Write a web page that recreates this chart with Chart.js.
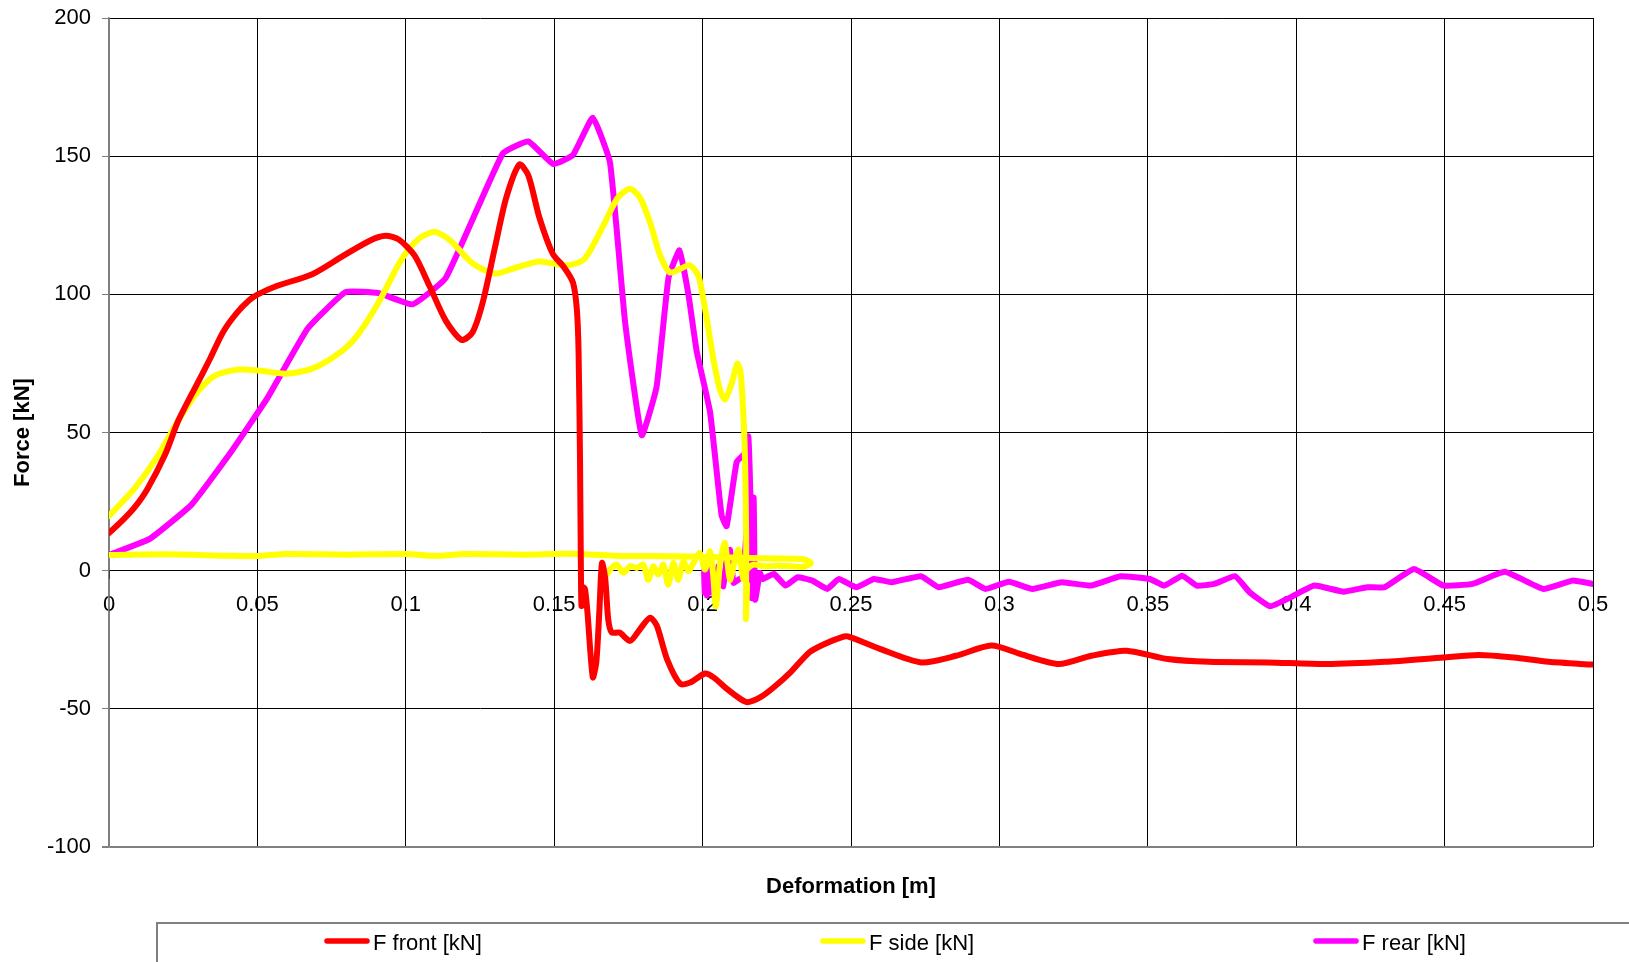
<!DOCTYPE html>
<html>
<head>
<meta charset="utf-8">
<script src="https://cdn.jsdelivr.net/npm/chart.js@4/dist/chart.umd.min.js"></script>
<style>
  html, body { margin: 0; padding: 0; background: #fff; }
  canvas { display: block; }
</style>
</head>
<body>
<canvas id="c" width="1629" height="962"></canvas>
<script>
// ---- Data (deformation [m], force [kN]) ----
const seriesLabels = ['F front [kN]', 'F side [kN]', 'F rear [kN]'];
const seriesColors = ['#FF0000', '#FFFF00', '#FF00FF'];

const xTicksStep = 0.05;
const yTicks = [-100, -50, 0, 50, 100, 150, 200];

const frontX = [0, 0.0042, 0.0084, 0.0129, 0.0189, 0.0234, 0.0294, 0.034, 0.0384, 0.043, 0.0474, 0.05, 0.0565, 0.0685, 0.079, 0.088, 0.0932, 0.0977, 0.103, 0.108, 0.1135, 0.1188, 0.1225, 0.126, 0.13, 0.1338, 0.1383, 0.1413, 0.145, 0.1495, 0.1533, 0.1563, 0.1576, 0.1582, 0.1587, 0.159, 0.1592, 0.1598, 0.1604, 0.1612, 0.163, 0.1642, 0.1652, 0.1661, 0.1672, 0.1682, 0.1694, 0.172, 0.1756, 0.179, 0.1823, 0.1846, 0.188, 0.1925, 0.196, 0.2008, 0.2037, 0.2082, 0.2127, 0.2152, 0.2195, 0.224, 0.2296, 0.236, 0.2409, 0.2465, 0.2489, 0.2597, 0.2736, 0.2854, 0.2973, 0.3072, 0.32, 0.331, 0.3428, 0.3567, 0.3705, 0.3903, 0.41, 0.43, 0.4496, 0.4615, 0.4733, 0.485, 0.5];
const frontY = [13.6, 17.8, 22.6, 29.5, 42, 54.4, 67, 76.6, 86.3, 93.2, 98, 99.9, 103, 107.3, 114, 119.5, 121.2, 119.8, 114, 103, 90.4, 83.5, 86.3, 97.4, 116.8, 134.8, 147, 143, 127.8, 114.7, 109.8, 104.3, 95, 80, 40, 0, -12.8, -6, -6.8, -15, -38.6, -33, -15, 2.8, -3, -17.6, -22.4, -22.4, -25.4, -21, -17, -20, -32, -41, -40.4, -37.2, -38.6, -42.8, -46.4, -47.6, -45.8, -42.2, -36.8, -29.5, -26.6, -24.2, -23.8, -28.3, -33.2, -30.8, -27.1, -30.2, -33.8, -30.8, -29, -32, -33, -33.2, -33.8, -33, -31.4, -30.5, -31.4, -33, -34];

// side: main loading curve, gap (null), then the flat base line and the noisy return band
const sideX = [0, 0.0084, 0.0159, 0.0234, 0.0294, 0.0354, 0.0429, 0.0505, 0.0595, 0.0685, 0.0775, 0.0835, 0.091, 0.0985, 0.1045, 0.1098, 0.115, 0.1225, 0.13, 0.1375, 0.145, 0.154, 0.16, 0.166, 0.1713, 0.1755, 0.1789, 0.1823, 0.1856, 0.189, 0.1924, 0.1957, 0.1986, 0.2008, 0.2036, 0.2059, 0.2076, 0.2098, 0.2117, 0.2128, 0.2138, 0.2143, 0.2147, 0.2146, 0.215,
  0.215,
  0, 0.02, 0.04, 0.05, 0.06, 0.08, 0.1, 0.11, 0.12, 0.14, 0.155, 0.17, 0.19, 0.21, 0.225, 0.234, 0.2365, 0.234, 0.2294, 0.2249, 0.2205, 0.2171, 0.2149, 0.2137, 0.2121, 0.2109, 0.2092, 0.2075, 0.2059, 0.2045, 0.2035, 0.2025, 0.2008, 0.1991, 0.1969, 0.1952, 0.1935, 0.1918, 0.1901, 0.1884, 0.1868, 0.1851, 0.1834, 0.1817, 0.18, 0.1778, 0.1755, 0.1733, 0.1711, 0.1688, 0.1671];
const sideY = [19.8, 29.5, 40.6, 54.4, 64.1, 70.4, 72.7, 72.4, 71.3, 73.1, 78.7, 84.9, 97.4, 112.6, 120.2, 122.6, 119.5, 111.2, 107.5, 109.8, 111.9, 110.5, 112.6, 123.7, 134.8, 138.2, 135, 126, 114.3, 107.9, 109.2, 110.5, 106.6, 94.9, 76.8, 65.2, 62, 67.8, 74.9, 71.7, 55, 40, 9.7, -17.5, -5,
  null,
  5.7, 5.9, 5.4, 5.3, 6, 5.8, 6, 5.4, 6, 5.8, 6.1, 5.4, 5.2, 4.8, 4.4, 4.1, 2.8, 1.4, 1.6, 1.8, 1.6, 2.2, 0.4, -3, 7.6, 4, -3.3, 10, 2.8, -13, -0.8, 7, 0.4, 6.4, 2.8, -0.2, 3.4, -3.3, 2.8, -5.1, 2.2, -1.4, 1.6, -3.3, 2.2, 1, 1.6, -0.8, 2.2, 0.4, -2.7];

// rear: main curve, gap (null), then the oscillating tail
const rearX = [0, 0.0137, 0.0279, 0.0414, 0.0535, 0.067, 0.0797, 0.091, 0.1023, 0.1135, 0.1327, 0.1413, 0.1496, 0.1563, 0.163, 0.1688, 0.1739, 0.1795, 0.1845, 0.1885, 0.1922, 0.1952, 0.198, 0.2025, 0.2064, 0.2081, 0.2115, 0.2143, 0.2154, 0.2162, 0.2166,
  0.2166,
  0.2005, 0.2007, 0.201, 0.2014, 0.2018, 0.2022, 0.203, 0.2042, 0.2053, 0.207, 0.2081, 0.2092, 0.2104, 0.212, 0.2137, 0.2154, 0.2165, 0.2172, 0.2177, 0.2193, 0.2202, 0.224, 0.228, 0.232, 0.237, 0.242, 0.2459, 0.2518, 0.2577, 0.2637, 0.2736, 0.2795, 0.2894, 0.2953, 0.3032, 0.3111, 0.321, 0.3309, 0.3408, 0.3507, 0.3556, 0.3616, 0.3665, 0.3724, 0.3794, 0.3843, 0.3912, 0.3982, 0.4061, 0.416, 0.4239, 0.4298, 0.4397, 0.4496, 0.4595, 0.4703, 0.4832, 0.4931, 0.5];
const rearY = [5.7, 11.5, 24, 43.4, 62.7, 87.7, 100.8, 100.4, 96.4, 106, 151, 155.3, 147.2, 150.4, 163.9, 147.7, 89.8, 49, 66.6, 105.9, 115.9, 100.1, 79.4, 57.5, 20, 16.1, 39.4, 42.6, 48.6, 22, -10,
  null,
  0, -8, -1, -9, -2, -8, 2.8, -10.5, 1.6, -5.7, 4, 7.6, -4.4, -3.3, -2, 23.3, 25.7, 26.5, -10.5, -0.8, -3, -1.2, -5.4, -2.4, -3.6, -6.6, -3, -6, -3, -4.2, -2, -6, -3.3, -6.6, -4, -6.6, -4.2, -5.4, -2, -3, -5.4, -1.8, -5.4, -4.8, -2, -7.8, -12.9, -9.6, -5.4, -7.6, -6, -6, 0.6, -5.4, -4.8, -0.4, -6.6, -3.6, -4.8];

const toPoints = (xs, ys) => xs.map((x, i) => ({ x: x, y: ys[i] }));

Chart.defaults.font.family = '"Liberation Sans", Arial, sans-serif';
Chart.defaults.font.size = 22;
Chart.defaults.color = '#000';

// Legend drawn in Excel style: framed box at the bottom, items spread out
const excelLegend = {
  id: 'excelLegend',
  afterDraw(chart) {
    const ctx = chart.ctx;
    ctx.save();
    ctx.strokeStyle = '#808080';
    ctx.lineWidth = 2;
    ctx.beginPath();
    ctx.moveTo(157, 962);
    ctx.lineTo(157, 923);
    ctx.lineTo(1629, 923);
    ctx.stroke();
    const starts = [324, 820, 1313];
    ctx.font = '22px "Liberation Sans", Arial, sans-serif';
    ctx.textBaseline = 'middle';
    ctx.textAlign = 'left';
    chart.data.datasets.forEach((ds, i) => {
      const x0 = starts[i];
      ctx.strokeStyle = ds.borderColor;
      ctx.lineWidth = 5.5;
      ctx.lineCap = 'round';
      ctx.beginPath();
      ctx.moveTo(x0 + 3, 941);
      ctx.lineTo(x0 + 43, 941);
      ctx.stroke();
      ctx.fillStyle = '#000';
      ctx.fillText(ds.label, x0 + 49, 944);
    });
    ctx.restore();
  }
};

new Chart(document.getElementById('c'), {
  type: 'line',
  data: {
    datasets: [
      { label: seriesLabels[0], data: toPoints(frontX, frontY), borderColor: seriesColors[0], tension: 0.25 },
      { label: seriesLabels[1], data: toPoints(sideX, sideY), borderColor: seriesColors[1], tension: 0.25 },
      { label: seriesLabels[2], data: toPoints(rearX, rearY), borderColor: seriesColors[2], tension: 0.12 }
    ]
  },
  options: {
    responsive: false,
    animation: false,
    devicePixelRatio: 1,
    spanGaps: false,
    elements: {
      point: { radius: 0, hoverRadius: 0 },
      line: { borderWidth: 6, borderCapStyle: 'round', borderJoinStyle: 'round', fill: false }
    },
    layout: { padding: { top: 18, right: 36, bottom: 61, left: 0 } },
    plugins: { legend: { display: false }, tooltip: { enabled: false } },
    scales: {
      x: {
        type: 'linear',
        position: { y: 0 },
        min: 0, max: 0.5,
        grid: {
          color: c => (c.tick && c.tick.value === 0) ? '#808080' : '#000',
          lineWidth: 1,
          tickLength: 8,
          tickColor: '#000'
        },
        border: { display: true, color: '#000', width: 1 },
        ticks: {
          stepSize: xTicksStep,
          autoSkip: false,
          maxRotation: 0,
          padding: 13,
          callback: v => String(+Number(v).toFixed(2))
        },
        afterFit: s => { s.paddingLeft = 0; s.paddingRight = 0; }
      },
      x2: {
        type: 'linear',
        position: 'bottom',
        min: 0, max: 0.5,
        ticks: { display: false },
        grid: { display: false },
        border: { display: false },
        title: { display: true, text: 'Deformation [m]', font: { weight: 'bold', size: 22 }, padding: { top: 0, bottom: 1 } },
        afterFit: s => { s.height = 54; s.paddingLeft = 0; s.paddingRight = 0; }
      },
      y: {
        type: 'linear',
        position: 'left',
        min: yTicks[0], max: yTicks[yTicks.length - 1],
        afterBuildTicks: s => { s.ticks = yTicks.map(v => ({ value: v })); },
        grid: {
          color: c => (c.tick && c.tick.value === -100) ? '#808080' : '#000',
          lineWidth: c => (c.tick && c.tick.value === -100) ? 2 : 1,
          tickLength: 7,
          tickColor: '#808080'
        },
        border: { display: true, color: '#808080', width: 1.5 },
        ticks: { padding: 11, callback: v => String(v) },
        title: { display: true, text: 'Force [kN]', font: { weight: 'bold', size: 22 }, padding: { top: 10, bottom: 0 } },
        afterFit: s => { s.width = 109; s.paddingTop = 0; s.paddingBottom = 0; }
      }
    }
  },
  plugins: [excelLegend]
});
</script>
</body>
</html>
